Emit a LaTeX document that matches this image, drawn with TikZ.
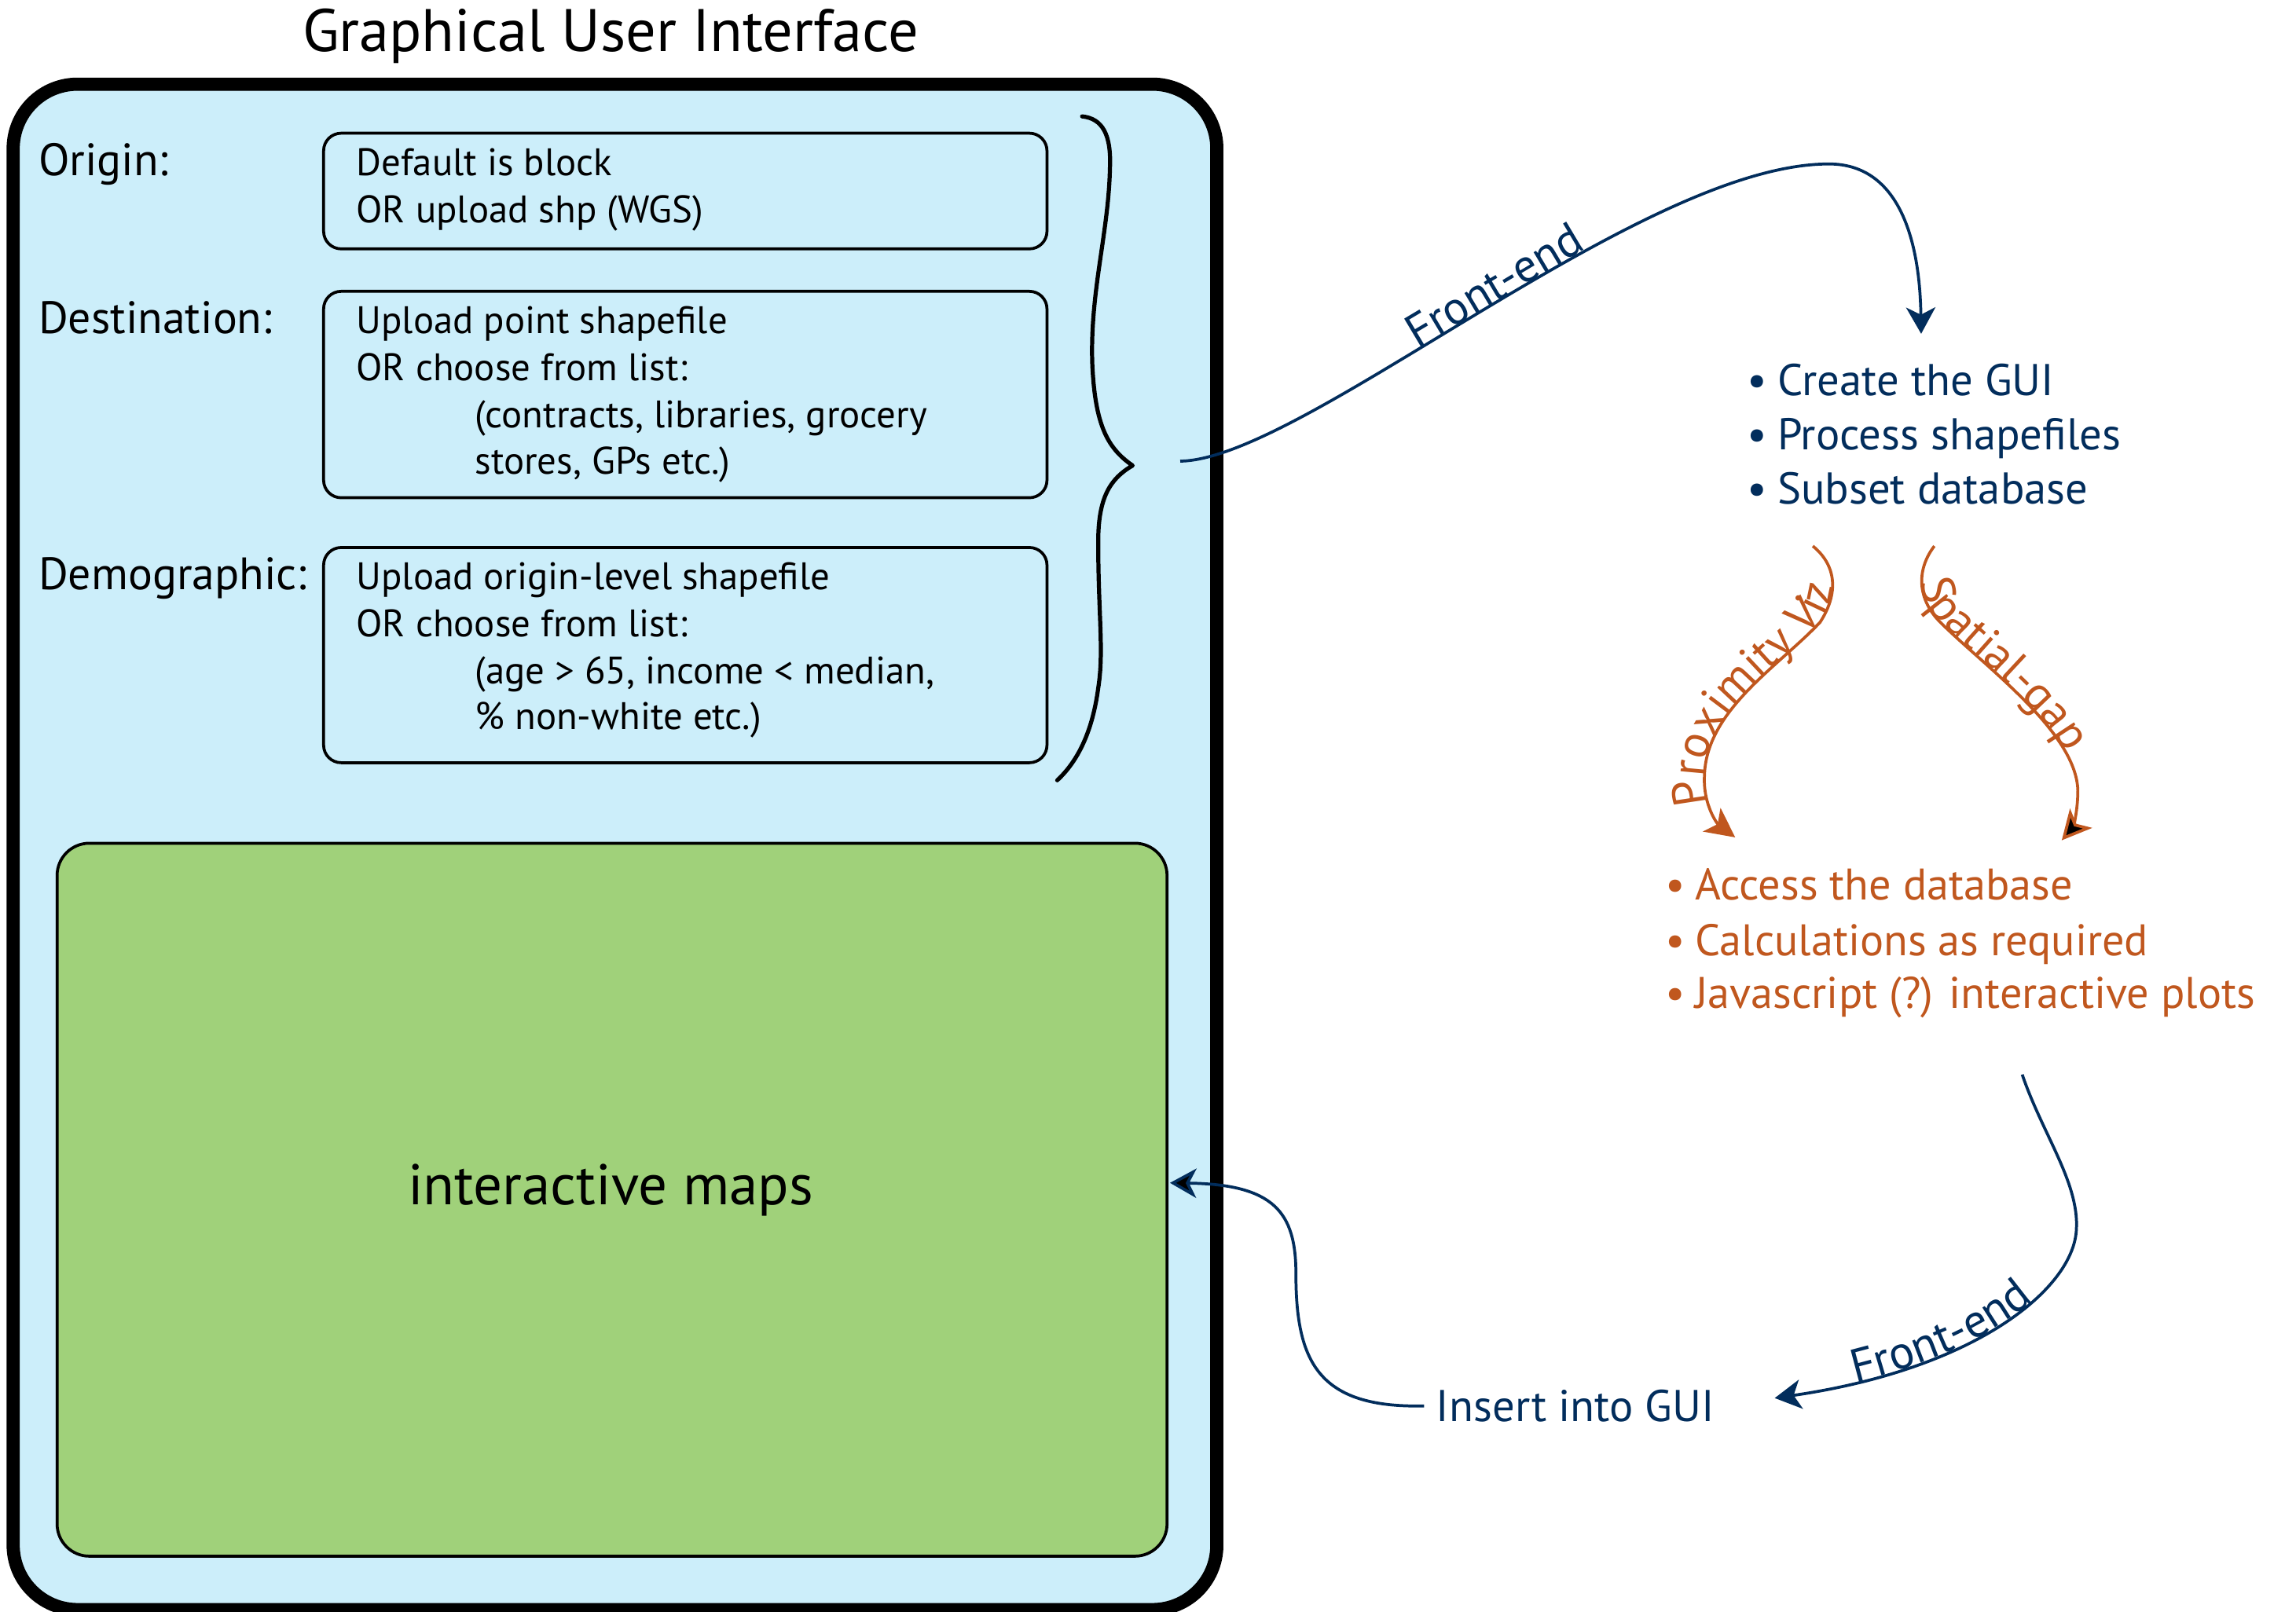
\documentclass[tikz,border=0pt]{standalone}
\usepackage{fontspec}
\setmainfont{PT Sans}
\usetikzlibrary{arrows.meta,decorations.text}
\definecolor{guiblue}{RGB}{204,238,250}
\definecolor{mapgreen}{RGB}{160,209,122}
\definecolor{navyc}{RGB}{2,45,92}
\definecolor{rustc}{RGB}{192,87,30}
\begin{document}
\begin{tikzpicture}[x=0.5pt,y=-0.5pt,
  guibox/.style={draw=black, line width=4.5pt, fill=guiblue, rounded corners=22pt, inner sep=0pt, anchor=north west},
  inbox/.style={draw=black, line width=1pt, rounded corners=6pt, inner sep=0pt, anchor=north west, minimum width=247pt},
  mapbox/.style={draw=black, line width=1pt, fill=mapgreen, rounded corners=11pt, inner sep=0pt, anchor=north west},
  boxtxt/.style={inner sep=0pt, anchor=base west, font=\fontsize{13.1}{15}\selectfont},
  fieldlbl/.style={inner sep=0pt, anchor=base west, font=\fontsize{15.5}{18}\selectfont},
  bluetxt/.style={inner sep=0pt, anchor=base west, text=navyc, font=\fontsize{15.2}{18}\selectfont},
  orangetxt/.style={inner sep=0pt, anchor=base west, text=rustc, font=\fontsize{15.1}{18}\selectfont},
  navyline/.style={draw=navyc, line width=1pt},
  rustline/.style={draw=rustc, line width=1pt},
  navytip/.style={-{Stealth[length=9pt,width=10pt,inset=2.5pt]}},
  rusttip/.style={-{Stealth[length=10pt,width=10pt,inset=2.5pt]}},
  curvelbl/.style={font=\fontsize{16}{18}\selectfont, inner sep=0pt, anchor=base, sloped}
]
\useasboundingbox (0,0) rectangle (1568,1101);

% title and main GUI frame
\node[inner sep=0pt, anchor=base, font=\fontsize{20.5}{22}\selectfont] (title) at (417,35) {Graphical User Interface};
\node[guibox, minimum width=411pt, minimum height=521pt] (gui) at (4.5,53) {};

% field labels
\node[fieldlbl] (lorig) at (26,120) {Origin:};
\node[fieldlbl] (ldest) at (26,228) {Destination:};
\node[fieldlbl] (ldemo) at (26,402.5) {Demographic:};

% input boxes
\node[inbox, minimum height=39.5pt] (box1) at (220,90) {};
\node[inbox, minimum height=70.5pt] (box2) at (220,198) {};
\node[inbox, minimum height=73.5pt] (box3) at (220,373) {};

\node[boxtxt] (t11) at (243,120) {Default is block};
\node[boxtxt] (t12) at (243,152) {OR upload shp (WGS)};
\node[boxtxt] (t21) at (243,228) {Upload point shapefile};
\node[boxtxt] (t22) at (243,260) {OR choose from list:};
\node[boxtxt] (t23) at (324,292) {(contracts, libraries, grocery};
\node[boxtxt] (t24) at (324,324) {stores, GPs etc.)};
\node[boxtxt] (t31) at (243,402.5) {Upload origin-level shapefile};
\node[boxtxt] (t32) at (243,435) {OR choose from list:};
\node[boxtxt] (t33) at (324,467) {(age > 65, income < median,};
\node[boxtxt] (t34) at (324,498) {\% non-white etc.)};

% brace
\draw[line width=1.4pt, line cap=round, line join=round]
  (739,79.5) .. controls (753,81) and (759,92) .. (758,115)
  .. controls (757,160) and (744,200) .. (746,250)
  .. controls (748,290) and (756,306) .. (773.5,318)
  .. controls (758,327) and (750,340) .. (750,370)
  .. controls (750,420) and (754,445) .. (750,470)
  .. controls (746,500) and (736,520) .. (722,533);

% map area
\node[mapbox, minimum width=379pt, minimum height=243.5pt] (maps) at (38,575) {};
\node[inner sep=0pt, font=\fontsize{19.6}{22}\selectfont] (mapslbl) at (417,813) {interactive maps};

% right side lists
\node[bluetxt] (b1) at (1193,270) {•\hspace{0.22em}Create the GUI};
\node[bluetxt] (b2) at (1193,307) {•\hspace{0.22em}Process shapefiles};
\node[bluetxt] (b3) at (1193,344.5) {•\hspace{0.22em}Subset database};

\node[orangetxt] (o1) at (1137,614.7) {•\hspace{0.22em}Access the database};
\node[orangetxt] (o2) at (1137,652.6) {•\hspace{0.22em}Calculations as required};
\node[orangetxt] (o3) at (1137,689) {•\hspace{0.22em}Javascript (?) interactive plots};

\node[bluetxt] (ins) at (980.5,971) {Insert into GUI};

% connector end points
\coordinate (festart) at (806,315);
\coordinate (feend) at (1312,228);
\coordinate (pxstart) at (1238,373);
\coordinate (pxend) at (1185,572);
\coordinate (spstart) at (1321,373);
\coordinate (spend) at (1408,574);
\coordinate (fbstart) at (1381,734);
\coordinate (fbend) at (1212,955);
\coordinate (insend) at (799,808);

% Front-end (top)
\draw[navyline, navytip] (festart)
  .. controls (890,314) and (1120,112) .. (1249,112)
  node[curvelbl, text=navyc, pos=0.53] (fe1lbl) {Front-end}
  .. controls (1295,112) and (1311,160) .. (feend);

% Proximity Viz
\draw[rustline, rusttip] (pxstart)
  .. controls (1254,386) and (1256,405) .. (1243,425)
  .. controls (1215,455) and (1165,485) .. (1164,530)
  .. controls (1163,550) and (1173,563) .. (pxend);
\path[decorate, decoration={text along path, text color=rustc,
    text={|\fontsize{16}{18}\selectfont|Proximity Viz}, text align={left indent=15pt}}]
  (pxend) .. controls (1173,563) and (1163,550) .. (1164,530)
  .. controls (1165,485) and (1215,455) .. (1243,425)
  .. controls (1256,405) and (1254,386) .. (pxstart);

% Spatial-gap
\draw[rustline, rusttip] (spstart)
  .. controls (1308,390) and (1310,410) .. (1325,425)
  .. controls (1355,455) and (1418,500) .. (1419,540)
  .. controls (1419,556) and (1415,566) .. (spend);
\path[decorate, decoration={text along path, text color=rustc,
    text={|\fontsize{16}{18}\selectfont|Spatial-gap}, text align={left indent=13pt}}]
  (spstart)
  .. controls (1308,390) and (1310,410) .. (1325,425)
  .. controls (1355,455) and (1418,500) .. (1419,540)
  .. controls (1419,556) and (1415,566) .. (spend);

% Front-end (bottom)
\draw[navyline, navytip] (fbstart)
  .. controls (1395,775) and (1420,808) .. (1418,840)
  .. controls (1416,880) and (1350,935) .. (fbend);
\path[decorate, decoration={text along path, text color=navyc,
    text={|\fontsize{16}{18}\selectfont|Front-end}, text align={left indent=28pt}}]
  (fbend) .. controls (1350,935) and (1416,880) .. (1418,840)
  .. controls (1420,808) and (1395,775) .. (fbstart);

% Insert into GUI
\draw[navyline, navytip] ([xshift=-4pt]ins.west)
  .. controls (900,962) and (885,930) .. (885,870)
  .. controls (885,828) and (870,809) .. (insend);
\end{tikzpicture}
\end{document}
